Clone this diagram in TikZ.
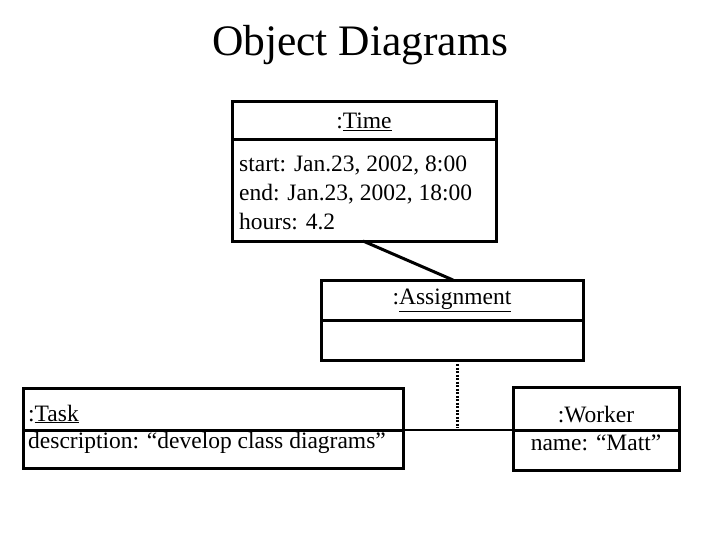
\documentclass[tikz,border=0pt]{standalone}
\usepackage{fontspec}
\setmainfont{Liberation Serif}
\tikzset{box/.style={draw,line width=3pt,inner sep=0pt},
 txt/.style={inner sep=0pt,font=\fontsize{23.5}{29}\selectfont},
 lnk/.style={line width=2pt}}
\begin{document}
\begin{tikzpicture}[x=1pt,y=-1pt]
\useasboundingbox (0,0) rectangle (720,540);
\node[inner sep=0pt,font=\fontsize{43.5}{48}\selectfont] (title) at (360,45) {Object Diagrams};
% Time
\draw[box] (232,102) rectangle (496,241);
\draw[line width=3pt] (232,140) -- (496,140);
\coordinate (timeb) at (363,241);
\node[txt] (tn) at (364,122) {:\underline{Time}};
\node[txt,anchor=west,align=left] (ta) at (239,193) {start: Jan.23, 2002, 8:00\\end: Jan.23, 2002, 18:00\\hours: 4.2};
% Assignment
\draw[box] (321,280) rectangle (583,360);
\draw[line width=3pt] (321,320) -- (583,320);
\coordinate (asst) at (453,280);
\coordinate (assb) at (457,364);
\node[txt] (an) at (452,300) {:\underline{Assignment}};
% Task
\draw[box] (23,388) rectangle (403,468);
\draw[line width=3pt] (23,430) -- (403,430);
\node[txt,anchor=west] (tk) at (28,414) {:\underline{Task}};
\node[txt,anchor=west] (td) at (28,443) {description: “develop class diagrams”};
\coordinate (taskr) at (403,430);
% Worker
\draw[box] (513,387) rectangle (679,470);
\draw[line width=3pt] (513,430) -- (679,430);
\node[txt] (wn) at (596,415) {:Worker};
\node[txt] (wa) at (596,443) {name: “Matt”};
\coordinate (workl) at (513,430);
\coordinate (mid) at (457,428);
% links
\draw[lnk,line width=3pt] (timeb) -- (asst);
\draw[lnk] (taskr) -- (workl);
\draw[line width=3pt,dash pattern=on 2pt off 1.5pt] (assb) -- (mid);
\end{tikzpicture}
\end{document}
